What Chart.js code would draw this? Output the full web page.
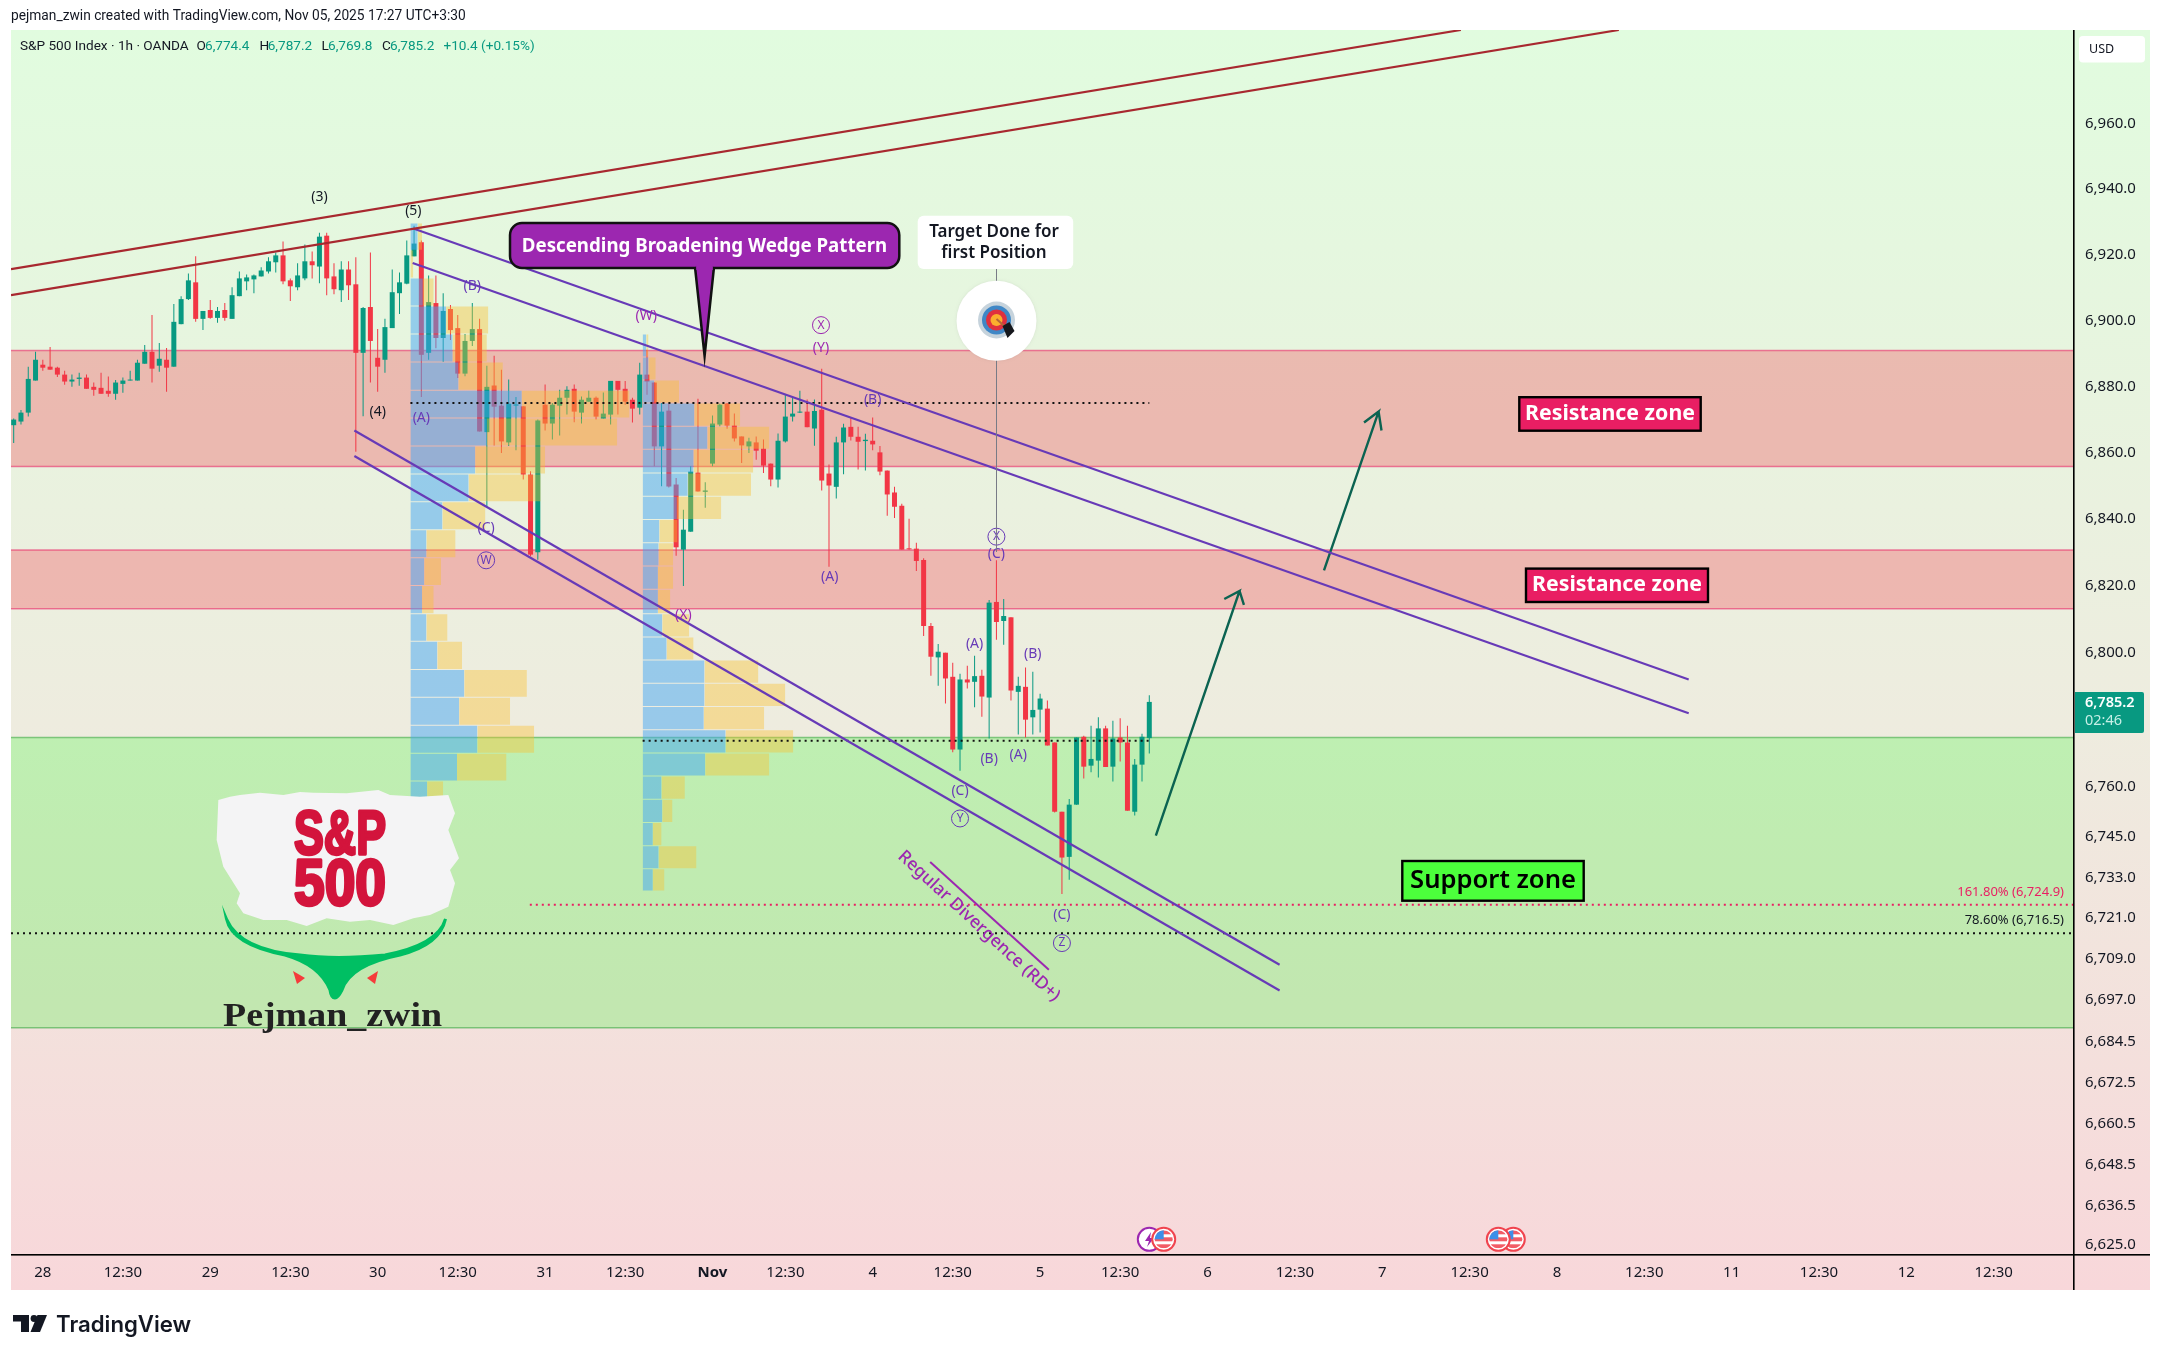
<!DOCTYPE html>
<html>
<head>
<meta charset="utf-8">
<title>S&amp;P 500 Index 1h</title>
<script src="https://cdn.jsdelivr.net/npm/chart.js@4"></script>
<style>
  html, body { margin: 0; padding: 0; background: #fff; }
  #wrap { width: 2161px; height: 1358px; }
</style>
</head>
<body>
<div id="wrap"><canvas id="chart" width="2161" height="1358"></canvas></div>
<script>
// --- DATA ---
const opens = [
  6868.3,6869.4,6872.1,6881.8,6886.6,6886.0,6885.7,6883.6,6881.5,6882.3,
  6882.7,6879.9,6879.6,6878.7,6877.8,6880.8,6881.8,6881.8,6886.9,6890.5,
  6886.3,6888.1,6886.0,6898.9,6906.5,6911.6,6900.5,6903.2,6900.8,6903.2,
  6900.5,6907.4,6911.9,6912.5,6913.4,6914.9,6917.7,6919.8,6912.2,6910.1,
  6912.8,6918.0,6916.4,6925.8,6913.4,6909.2,6915.5,6911.0,6890.2,6904.1,
  6888.7,6888.1,6897.7,6908.3,6911.2,6919.5,6923.8,6890.2,6905.3,6894.7,
  6903.5,6897.7,6883.9,6893.8,6897.4,6866.2,6880.3,6874.2,6863.1,6874.2,
  6874.0,6853.4,6830.0,6874.5,6868.8,6874.2,6876.6,6879.3,6872.1,6875.4,
  6876.6,6870.3,6871.5,6881.7,6879.3,6876.0,6873.6,6883.6,6881.2,6861.9,
  6872.7,6850.4,6830.8,6836.2,6854.0,6848.2,6856.7,6868.5,6874.8,6868.2,
  6864.9,6861.9,6863.1,6861.2,6856.7,6851.9,6863.4,6870.9,6872.1,6872.4,
  6867.3,6873.0,6853.7,6849.7,6863.1,6867.8,6864.8,6863.5,6863.6,6860.1,
  6854.6,6848.0,6844.0,6831.1,6831.1,6827.7,6807.9,6798.5,6799.9,6792.7,
  6771.0,6791.9,6791.2,6793.0,6786.5,6815.1,6809.4,6810.5,6788.2,6789.7,
  6780.6,6782.9,6783.2,6773.1,6752.5,6739.1,6754.6,6774.8,6766.2,6767.7,
  6777.3,6765.9,6774.6,6773.1,6752.5,6766.5,6774.4
]
const highs = [
  6870.3,6872.9,6886.0,6890.5,6888.1,6892.0,6886.0,6884.8,6883.6,6884.2,
  6883.6,6881.2,6884.2,6883.0,6882.0,6882.7,6884.8,6888.1,6892.6,6901.7,
  6893.2,6891.7,6905.0,6907.4,6914.3,6919.5,6902.9,6906.2,6904.1,6905.3,
  6910.1,6914.9,6914.0,6914.0,6916.2,6919.2,6920.7,6924.0,6912.8,6917.4,
  6923.1,6921.0,6926.7,6926.7,6917.4,6918.0,6918.0,6919.2,6904.1,6920.7,
  6897.4,6900.5,6915.5,6914.6,6924.3,6928.8,6924.3,6913.7,6913.7,6908.3,
  6904.7,6901.7,6895.9,6905.3,6900.5,6886.3,6889.3,6885.1,6882.1,6876.8,
  6874.0,6854.4,6870.0,6880.6,6875.0,6879.0,6880.1,6880.6,6877.0,6878.7,
  6877.0,6878.2,6881.7,6881.7,6881.7,6876.6,6887.2,6891.1,6881.2,6875.0,
  6874.8,6852.4,6842.8,6855.9,6876.3,6851.1,6871.2,6874.8,6875.0,6871.8,
  6864.9,6864.5,6864.9,6864.0,6856.7,6865.8,6877.5,6876.8,6878.7,6876.1,
  6876.1,6885.4,6856.4,6864.8,6868.7,6870.7,6867.8,6865.7,6870.6,6862.0,
  6854.6,6849.7,6844.6,6840.1,6832.9,6828.2,6808.8,6802.5,6799.9,6796.9,
  6793.6,6796.0,6799.0,6794.8,6815.7,6827.6,6816.0,6810.5,6792.7,6795.5,
  6794.2,6787.6,6785.6,6773.1,6752.5,6756.3,6774.6,6775.1,6778.1,6780.6,
  6778.1,6779.6,6780.3,6778.1,6768.2,6775.7,6787.2
]
const lows = [
  6862.9,6868.5,6870.9,6881.8,6884.8,6885.1,6882.9,6880.5,6879.9,6880.2,
  6879.3,6877.2,6877.8,6876.9,6876.0,6878.1,6881.8,6881.8,6886.9,6881.2,
  6884.5,6878.4,6886.0,6898.9,6906.2,6899.6,6897.1,6900.5,6899.3,6899.9,
  6900.5,6907.4,6909.2,6908.3,6913.4,6914.3,6914.6,6911.0,6905.9,6909.2,
  6912.2,6912.8,6911.3,6907.7,6908.0,6905.6,6906.2,6860.3,6871.0,6881.2,
  6878.4,6884.2,6897.7,6902.0,6911.0,6919.5,6876.8,6888.1,6891.6,6887.5,
  6894.1,6882.6,6883.1,6892.3,6866.4,6843.8,6862.2,6859.9,6862.0,6860.7,
  6851.9,6828.8,6827.8,6866.7,6864.0,6865.2,6871.5,6869.2,6868.8,6875.4,
  6870.0,6870.3,6868.5,6871.5,6874.5,6869.1,6871.5,6877.5,6855.9,6849.9,
  6849.5,6829.0,6819.9,6836.2,6848.3,6843.4,6855.9,6868.0,6867.2,6863.4,
  6856.9,6859.9,6857.9,6853.9,6849.9,6849.5,6863.1,6869.4,6872.0,6867.7,
  6862.1,6848.6,6825.7,6846.2,6853.5,6863.7,6854.9,6854.6,6860.7,6853.2,
  6841.0,6840.3,6830.8,6830.8,6824.4,6804.9,6793.0,6790.0,6784.7,6770.2,
  6764.7,6789.2,6783.6,6780.8,6774.3,6803.8,6802.3,6785.6,6775.5,6774.6,
  6775.5,6776.1,6772.2,6752.3,6728.1,6732.3,6754.6,6762.4,6764.2,6762.7,
  6765.8,6761.5,6767.4,6752.8,6751.4,6761.5,6769.8
]
const closes = [
  6870.0,6872.1,6882.3,6888.1,6885.7,6885.1,6883.6,6881.5,6882.1,6882.7,
  6879.3,6879.0,6877.8,6877.8,6881.2,6881.8,6882.0,6887.2,6890.5,6885.4,
  6888.4,6885.7,6899.6,6906.5,6912.2,6900.5,6902.9,6900.8,6902.9,6900.8,
  6907.7,6912.8,6913.1,6913.7,6915.2,6918.0,6919.8,6911.9,6910.4,6913.7,
  6918.0,6916.8,6925.5,6912.8,6909.5,6915.5,6910.7,6890.2,6903.8,6893.8,
  6886.0,6898.0,6908.6,6911.6,6919.8,6923.4,6889.6,6905.6,6894.7,6902.9,
  6897.1,6883.9,6893.8,6897.4,6866.4,6879.9,6873.9,6863.4,6874.8,6874.6,
  6853.4,6829.3,6869.7,6868.8,6874.5,6876.6,6879.0,6872.4,6876.0,6876.6,
  6870.9,6871.8,6881.7,6879.0,6875.4,6873.3,6883.6,6881.5,6861.9,6872.4,
  6849.8,6831.5,6836.8,6854.3,6848.3,6848.6,6868.8,6874.5,6868.2,6864.3,
  6862.2,6863.4,6860.6,6856.1,6851.9,6863.6,6870.9,6871.8,6872.4,6867.7,
  6872.6,6851.6,6850.1,6863.1,6867.6,6864.8,6863.3,6863.9,6862.5,6854.3,
  6847.4,6843.7,6830.8,6830.9,6827.4,6807.9,6798.7,6800.2,6792.2,6771.0,
  6791.9,6791.0,6792.9,6786.8,6814.9,6809.1,6810.9,6788.6,6790.0,6779.9,
  6782.8,6786.2,6772.2,6752.5,6738.9,6754.6,6774.6,6765.9,6768.2,6777.3,
  6765.8,6774.3,6773.1,6752.8,6766.5,6774.8,6785.2
]

const priceTicks = [6960,6940,6920,6900,6880,6860,6840,6820,6800,6760,6745,6733,6721,6709,6697,6684.5,6672.5,6660.5,6648.5,6636.5,6625]
const timeTicks = [4,15,27,38,50,61,73,84,96,106,118,129,141,152,164,176,188,200,212,224,236,248,260,272]
const timeLabels = ['28','12:30','29','12:30','30','12:30','31','12:30','Nov','12:30','4','12:30','5','12:30','6','12:30','7','12:30','8','12:30','11','12:30','12','12:30']

// fixed ranges, in bars and prices
const barMin = -0.37
const barMax = 283.03
const priceMin = 6622.1
const priceMax = 6988.75

// zones: [low, high]
const resistanceA = [6855.8, 6890.9]
const resistanceB = [6813.1, 6830.7]
const supportZone = [6688.6, 6774.6]

// volume profile 1
const vp1Start = 54.5
const vp1Edges = [6929.7,6921.4,6912.9,6904.4,6895.9,6887.4,6878.9,6870.5,6862.0,6853.6,6845.2,6836.8,6828.4,6820.0,6811.6,6803.3,6794.9,6786.6,6778.2,6769.9,6761.6,6753.3]
const vp1Up = [1.0,0,1.7,4.9,5.8,6.6,15.3,10.5,8.9,8.0,4.4,2.2,1.9,1.6,2.2,3.7,7.4,6.7,9.2,6.4,2.3]
const vp1Total = [1.6,0.4,3.2,10.7,10.5,12.7,30.1,28.4,18.5,17.9,10.3,6.2,4.2,3.2,5.1,7.1,16.0,13.7,17.0,13.2,4.5]
const vp1Poc = 6875.0

// volume profile 2
const vp2Start = 86.4
const vp2Edges = [6895.9,6888.9,6882.0,6875.0,6868.0,6861.0,6853.9,6846.9,6839.9,6832.9,6825.9,6818.9,6811.6,6804.6,6797.7,6790.8,6783.8,6776.9,6770.0,6763.1,6756.2,6749.3,6742.4,6735.6,6729.0]
const vp2Up = [0.5,0.8,1.6,7.1,8.9,7.0,6.2,4.7,2.3,2.2,2.1,2.1,2.7,3.3,8.5,8.5,8.4,11.4,8.6,2.6,2.7,1.4,2.2,1.4]
const vp2Total = [0.8,1.8,5.0,13.4,17.4,15.2,14.9,10.8,4.8,4.2,4.2,3.8,6.4,7.0,15.9,19.6,16.7,20.7,17.4,5.8,4.1,2.6,7.4,3.0]
const vp2Poc = 6773.6

// drawings: bars and prices of their end points
const channelBars = [-0.37, 198.8]
const channelTop = [6915.6, 6988.75]
const channelBars2 = [-0.37, 220.5]
const channelLow = [6907.7, 6988.75]
const wedgeBarsA = [54.9, 230.1]
const wedgeA = [6928.0, 6791.9]
const wedgeBarsB = [54.8, 230.1]
const wedgeB = [6917.5, 6781.8]
const wedgeBarsC = [46.8, 173.9]
const wedgeC = [6866.7, 6707.2]
const wedgeD = [6859.0, 6699.6]
const divergenceBars = [125.9, 142.2]
const divergence = [6737.6, 6705.7]
const fib161 = 6724.9
const fib161Start = 70.9
const fib786 = 6716.5
const pocEnd = 156
const arrowBars1 = [156.9, 168.4, 166.3, 168.4, 169.0]
const arrowPrices1 = [6745.4, 6818.4, 6816.0, 6818.4, 6814.2]
const arrowBars2 = [180, 187.5, 185.5, 187.5, 187.9]
const arrowPrices2 = [6824.6, 6872.4, 6869.1, 6872.4, 6866.7]

// wave labels, a single letter sits in a ring
const waveLabels = ['(3)','(5)','(4)','(B)','(A)','(C)','W','(W)','X','(Y)','(B)','(A)','(X)','X','(C)','(A)','(B)','(B)','(A)','(C)','Y','(C)','Z']
const waveBars = [42,54.9,50,63,56,64.9,64.9,86.9,110.9,110.9,118,112.1,92,135,135,132,140,134,138,130,130,144,144]
const wavePrices = [6937.6,6933.3,6872.4,6910.5,6870.6,6837.4,6827.6,6901.4,6898.6,6891.7,6876,6822.6,6811.2,6834.7,6829.6,6802.6,6799.6,6768.3,6769.5,6758.6,6750.5,6721.9,6713.6]
const waveColors = ['k','k','k','p','p','p','p','m','m','m','p','p','m','p','p','p','p','p','p','p','p','p','p']

const UP = '#089981'
const DOWN = '#f23645'
const PURPLE = '#673ab7'
const MAGENTA = '#9c27b0'
const PINK = '#e91e63'
const BLUE_VP = 'rgba(66, 165, 245, 0.5)'
const YELLOW_VP = 'rgba(251, 192, 45, 0.4)'

// --- DATASETS ---
function pts(xs, ys) {
  return xs.map((x, i) => ({ x: x, y: ys[i] }))
}

function line(xs, ys, color, width, order, dash) {
  return {
    type: 'line', data: pts(xs, ys), borderColor: color, borderWidth: width,
    borderDash: dash || [], pointRadius: 0, fill: false, order: order, tension: 0
  }
}

// rectangle between two prices, drawn as a filled line
function box(x0, x1, lo, hi, color, order) {
  return {
    type: 'line', data: pts([x0, x1], [hi, hi]), borderWidth: 0, pointRadius: 0,
    backgroundColor: color, fill: { value: lo }, order: order, tension: 0
  }
}

function profile(start, edges, up, total) {
  const out = []
  up.forEach((u, i) => {
    const hi = edges[i] - 0.15
    const lo = edges[i + 1] + 0.15
    if (u > 0) out.push(box(start, start + u, lo, hi, BLUE_VP, 3))
    out.push(box(start + u, start + total[i], lo, hi, YELLOW_VP, 3))
  })
  return out
}

const bars = opens.map((o, i) => i)
const colors = opens.map((o, i) => (closes[i] >= o ? UP : DOWN))

const datasets = [
  // candles
  { type: 'bar', data: bars.map(i => ({ x: i, y: [opens[i], closes[i]] })), backgroundColor: colors, barThickness: 5, minBarLength: 1, grouped: false, order: 4, inflateAmount: 0 },
  { type: 'bar', data: bars.map(i => ({ x: i, y: [lows[i], highs[i]] })), backgroundColor: colors, barThickness: 1, grouped: false, order: 5, inflateAmount: 0 },

  // zones
  box(barMin, barMax, resistanceA[0], resistanceA[1], 'rgba(242, 54, 69, 0.3)', 7),
  box(barMin, barMax, resistanceB[0], resistanceB[1], 'rgba(242, 54, 69, 0.3)', 7),
  box(barMin, barMax, supportZone[0], supportZone[1], 'rgba(0, 255, 0, 0.2)', 7),
  ...resistanceA.concat(resistanceB).map(p => line([barMin, barMax], [p, p], 'rgba(233, 30, 99, 0.55)', 1.5, 6)),
  ...supportZone.map(p => line([barMin, barMax], [p, p], 'rgba(76, 175, 80, 0.65)', 1.5, 6)),

  ...profile(vp1Start, vp1Edges, vp1Up, vp1Total),
  ...profile(vp2Start, vp2Edges, vp2Up, vp2Total),

  // trend lines
  line(channelBars, channelTop, '#a8282f', 2.2, 1),
  line(channelBars2, channelLow, '#a8282f', 2.2, 1),
  line(wedgeBarsA, wedgeA, PURPLE, 2.2, 1),
  line(wedgeBarsB, wedgeB, PURPLE, 2.2, 1),
  line(wedgeBarsC, wedgeC, PURPLE, 2.2, 1),
  line(wedgeBarsC, wedgeD, PURPLE, 2.2, 1),
  line(divergenceBars, divergence, MAGENTA, 2, 1),
  line(arrowBars1, arrowPrices1, '#0b6351', 2.4, 1),
  line(arrowBars2, arrowPrices2, '#0b6351', 2.4, 1),

  // fib and point of control lines
  line([fib161Start, barMax], [fib161, fib161], PINK, 2, 2, [2, 4]),
  line([barMin, barMax], [fib786, fib786], '#111', 2, 2, [2, 4]),
  line([vp1Start, pocEnd], [vp1Poc, vp1Poc], '#111', 2, 2, [2, 4]),
  line([vp2Start, pocEnd], [vp2Poc, vp2Poc], '#111', 2, 2, [2, 4])
]

// --- DECORATION ---
function roundBox(ctx, x, y, w, h, r, fill, stroke, lw) {
  ctx.beginPath()
  ctx.roundRect(x, y, w, h, r)
  ctx.fillStyle = fill
  ctx.fill()
  if (stroke) {
    ctx.strokeStyle = stroke
    ctx.lineWidth = lw
    ctx.stroke()
  }
}

function text(ctx, s, x, y, font, color, align) {
  ctx.font = font
  ctx.fillStyle = color
  ctx.textAlign = align || 'left'
  ctx.textBaseline = 'middle'
  ctx.fillText(s, x, y)
}

// stretches a word into a given box, heavy adds an outline
function fitText(ctx, s, x, y, w, h, font, color, heavy) {
  ctx.save()
  ctx.font = font
  ctx.fillStyle = color
  ctx.textAlign = 'left'
  ctx.textBaseline = 'alphabetic'
  const m = ctx.measureText(s)
  const th = m.actualBoundingBoxAscent + m.actualBoundingBoxDescent
  ctx.translate(x, y + h)
  ctx.scale(w / m.width, h / th)
  ctx.fillText(s, 0, -m.actualBoundingBoxDescent)
  if (heavy) {
    ctx.strokeStyle = color
    ctx.lineWidth = heavy
    ctx.lineJoin = 'round'
    ctx.strokeText(s, 0, -m.actualBoundingBoxDescent)
  }
  ctx.restore()
}

function poly(ctx, points, color) {
  ctx.beginPath()
  points.forEach((p, i) => (i ? ctx.lineTo(p[0], p[1]) : ctx.moveTo(p[0], p[1])))
  ctx.closePath()
  ctx.fillStyle = color
  ctx.fill()
}

function drawLogo(ctx) {
  // torn paper
  const paper = [[55,60],[90,50],[120,45],[180,38],[250,45],[300,36],[340,38],[440,40],[535,30],[570,45],[660,50],[745,45],[765,100],[745,150],[777,235],[750,270],[765,310],[745,380],[690,405],[640,415],[580,435],[510,420],[450,425],[380,415],[320,438],[260,420],[190,420],[130,400],[110,370],[120,340],[70,260],[50,180]]
  poly(ctx, paper.map(p => [p[0] / 3 + 200, p[1] / 3 + 780]), '#f4f4f5')
  const heavy = 'bold 50px "Liberation Sans Narrow", "Liberation Sans"'
  fitText(ctx, 'S&P', 294, 809, 92, 45, heavy, '#d3143c', 2.6)
  fitText(ctx, '500', 294, 858, 92, 47, heavy, '#d3143c', 2.6)

  // swoosh
  ctx.beginPath()
  ctx.moveTo(226.5, 919)
  ctx.quadraticCurveTo(240, 950, 300, 955)
  ctx.quadraticCurveTo(335, 960, 385, 955)
  ctx.quadraticCurveTo(438, 945, 445.5, 919)
  ctx.quadraticCurveTo(440, 945, 400, 955)
  ctx.quadraticCurveTo(350, 965, 342, 990)
  ctx.quadraticCurveTo(338, 998, 335, 998)
  ctx.quadraticCurveTo(331, 998, 330, 990)
  ctx.quadraticCurveTo(320, 965, 285, 955)
  ctx.quadraticCurveTo(232, 945, 226.5, 919)
  ctx.closePath()
  ctx.fillStyle = '#00bf63'
  ctx.fill()
  ctx.strokeStyle = '#00bf63'
  ctx.lineWidth = 3
  ctx.stroke()

  poly(ctx, [[293, 971], [305, 978], [297, 984]], '#f53b3b')
  poly(ctx, [[378, 971], [367, 978], [375, 984]], '#f53b3b')
  fitText(ctx, 'Pejman_zwin', 223, 1003, 219, 30, 'bold 34px "Liberation Serif"', '#222')
}

function drawFlag(ctx, x, y) {
  ctx.save()
  ctx.beginPath()
  ctx.arc(x, y, 11.5, 0, Math.PI * 2)
  ctx.fillStyle = '#fff'
  ctx.fill()
  ctx.lineWidth = 2
  ctx.strokeStyle = '#f0444f'
  ctx.stroke()
  ctx.beginPath()
  ctx.arc(x, y, 9, 0, Math.PI * 2)
  ctx.clip()
  ctx.fillStyle = '#f25c66'
  ctx.fillRect(x - 10, y - 9, 20, 4)
  ctx.fillRect(x - 10, y - 2, 20, 4)
  ctx.fillRect(x - 10, y + 5, 20, 4)
  ctx.fillStyle = '#3d8fe8'
  ctx.fillRect(x - 10, y - 10, 10, 10)
  ctx.restore()
}

function drawTarget(ctx) {
  const x = 996.5
  ctx.strokeStyle = '#787b86'
  ctx.lineWidth = 1
  ctx.beginPath()
  ctx.moveTo(x, 269)
  ctx.lineTo(x, 552)
  ctx.stroke()

  ctx.save()
  ctx.shadowColor = 'rgba(0, 0, 0, 0.08)'
  ctx.shadowBlur = 3
  ctx.beginPath()
  ctx.arc(x, 320.7, 40, 0, Math.PI * 2)
  ctx.fillStyle = '#fff'
  ctx.fill()
  ctx.restore()
  const rings = [[18.5, '#c6d3dc'], [14.5, '#3f87c6'], [10.5, '#e0303e'], [6, '#fbae2e']]
  rings.forEach(r => {
    ctx.beginPath()
    ctx.arc(x, 320, r[0], 0, Math.PI * 2)
    ctx.fillStyle = r[1]
    ctx.fill()
  })
  ctx.strokeStyle = '#b5653a'
  ctx.lineWidth = 2
  ctx.beginPath()
  ctx.moveTo(x, 319)
  ctx.lineTo(x + 10, 328)
  ctx.stroke()
  poly(ctx, [[x + 6, 326], [x + 13, 322], [x + 18, 331], [x + 11, 338]], '#15171c')

  roundBox(ctx, 917.7, 215.7, 155.5, 53.3, 6, '#fff')
  const f = '600 17px "Noto Sans"'
  text(ctx, 'Target Done for', 994, 232, f, '#131722', 'center')
  text(ctx, 'first Position', 994, 253.5, f, '#131722', 'center')
}

const overlay = {
  id: 'overlay',
  beforeDraw(chart) {
    const ctx = chart.ctx
    const g = ctx.createLinearGradient(0, 30, 0, 1290)
    g.addColorStop(0, '#e1fcdf')
    g.addColorStop(0.55, '#eeecdf')
    g.addColorStop(1, '#f8d7da')
    ctx.fillStyle = g
    ctx.fillRect(11, 30, 2139, 1260)
  },
  afterDraw(chart) {
    const ctx = chart.ctx
    const sx = chart.scales.x
    const sy = chart.scales.y

    // axis lines
    ctx.fillStyle = '#000'
    ctx.fillRect(2073, 30, 1.6, 1260)
    ctx.fillRect(11, 1254, 2139, 1.6)

    // header and legend line
    text(ctx, 'pejman_zwin created with TradingView.com, Nov 05, 2025 17:27 UTC+3:30', 11, 17, '13.75px Roboto', '#131722')
    const lf = '13.6px Roboto'
    text(ctx, 'S&P 500 Index · 1h · OANDA', 20, 47, lf, '#131722')
    const legendKeys = [['O', 196.5], ['H', 259.4], ['L', 321.4], ['C', 382]]
    legendKeys.forEach(k => text(ctx, k[0], k[1], 47, lf, '#131722'))
    const legendVals = [['6,774.4', 205], ['6,787.2', 267.7], ['6,769.8', 328], ['6,785.2', 390], ['+10.4 (+0.15%)', 443.5]]
    legendVals.forEach(k => text(ctx, k[0], k[1], 47, lf, UP))

    // wave labels
    waveLabels.forEach((s, i) => {
      const x = sx.getPixelForValue(waveBars[i])
      const y = sy.getPixelForValue(wavePrices[i])
      const c = waveColors[i] === 'k' ? '#131722' : waveColors[i] === 'm' ? MAGENTA : PURPLE
      const ringed = s.length === 1
      text(ctx, s, x, y, ringed ? '12px "Noto Sans"' : '14px "Noto Sans"', c, 'center')
      if (ringed) {
        ctx.beginPath()
        ctx.arc(x, y, 8.5, 0, Math.PI * 2)
        ctx.strokeStyle = c
        ctx.lineWidth = 1
        ctx.stroke()
      }
    })

    // divergence label
    ctx.save()
    ctx.translate(sx.getPixelForValue(132.6), sy.getPixelForValue(6718.6))
    ctx.rotate(42.6 * Math.PI / 180)
    text(ctx, 'Regular Divergence (RD+)', 0, 0, '500 17.5px "Noto Sans"', MAGENTA, 'center')
    ctx.restore()

    // wedge banner
    ctx.beginPath()
    ctx.roundRect(510, 223, 389.3, 45, 12)
    ctx.fillStyle = MAGENTA
    ctx.fill()
    ctx.strokeStyle = '#111'
    ctx.lineWidth = 2.5
    ctx.stroke()
    ctx.beginPath()
    ctx.moveTo(695, 267)
    ctx.lineTo(704.6, 356)
    ctx.lineTo(714, 267)
    ctx.fillStyle = MAGENTA
    ctx.fill()
    ctx.stroke()
    ctx.fillRect(696.3, 264, 16.4, 6)
    text(ctx, 'Descending Broadening Wedge Pattern', 704.5, 246.5, 'bold 18.7px "Noto Sans"', '#fff', 'center')

    drawTarget(ctx)

    // zone labels
    const tags = [
      ['Resistance zone', 1519.3, 397.2, 181.4, 33.5, PINK, '#fff', 'bold 21.3px "Noto Sans"'],
      ['Resistance zone', 1526, 568.6, 182, 33.4, PINK, '#fff', 'bold 21.3px "Noto Sans"'],
      ['Support zone', 1402.3, 861, 181.4, 39.7, '#4cff3c', '#000', '600 25.6px "Noto Sans"']
    ]
    tags.forEach(t => {
      ctx.fillStyle = t[5]
      ctx.fillRect(t[1], t[2], t[3], t[4])
      ctx.strokeStyle = '#000'
      ctx.lineWidth = 2.4
      ctx.strokeRect(t[1], t[2], t[3], t[4])
      text(ctx, t[0], t[1] + t[3] / 2, t[2] + t[4] / 2, t[7], t[6], 'center')
    })

    // fib labels
    text(ctx, '161.80% (6,724.9)', 2064, 892, '13px "Noto Sans"', PINK, 'right')
    text(ctx, '78.60% (6,716.5)', 2064, 920, '13px "Noto Sans"', '#131722', 'right')

    drawLogo(ctx)

    // event icons on the time axis
    ctx.beginPath()
    ctx.arc(1149.3, 1239.3, 11.5, 0, Math.PI * 2)
    ctx.fillStyle = '#fff'
    ctx.fill()
    ctx.strokeStyle = MAGENTA
    ctx.lineWidth = 2
    ctx.stroke()
    poly(ctx, [[1151, 1232], [1145, 1241], [1149, 1241], [1147, 1247], [1154, 1238], [1150, 1238]], MAGENTA)
    drawFlag(ctx, 1163.7, 1239.3)
    drawFlag(ctx, 1513.3, 1239.3)
    drawFlag(ctx, 1498.3, 1239.3)

    // currency button and last price tag
    roundBox(ctx, 2079, 36, 66, 26.5, 4, '#fff')
    text(ctx, 'USD', 2089, 49.5, '12.5px "Noto Sans"', '#131722')
    roundBox(ctx, 2075, 692, 69, 41, [0, 2, 2, 0], UP)
    text(ctx, '6,785.2', 2085, 703, '600 14.5px "Noto Sans"', '#fff')
    text(ctx, '02:46', 2085, 721, '14.5px "Noto Sans"', '#c6efe6')

    // footer logo
    ctx.fillStyle = '#131722'
    ctx.fillRect(13, 1315, 16, 6.5)
    ctx.fillRect(21, 1315, 8, 17)
    ctx.beginPath()
    ctx.arc(34, 1318.5, 3.4, 0, Math.PI * 2)
    ctx.fill()
    poly(ctx, [[47, 1315], [40, 1332], [30.5, 1332], [37.5, 1315]], '#131722')
    text(ctx, 'TradingView', 56, 1325, '600 22.2px Inter', '#131722')
  }
}

// --- CHART ---
new Chart(document.getElementById('chart').getContext('2d'), {
  data: { datasets: datasets },
  plugins: [overlay],
  options: {
    responsive: false,
    animation: false,
    devicePixelRatio: 1,
    layout: { padding: { left: 11, top: 30, right: 11, bottom: 68 } },
    plugins: { legend: { display: false }, tooltip: { enabled: false } },
    scales: {
      x: {
        type: 'linear',
        offset: false,
        min: barMin,
        max: barMax,
        grid: { display: false, drawTicks: false },
        border: { display: false },
        afterBuildTicks: scale => { scale.ticks = timeTicks.map(v => ({ value: v })) },
        afterFit: scale => { scale.height = 35 },
        ticks: {
          autoSkip: false,
          maxRotation: 0,
          padding: 9,
          color: '#131722',
          font: ctx => ({ family: 'Noto Sans', size: 15, weight: ctx.index === 8 ? 'bold' : 'normal' }),
          callback: (v, i) => timeLabels[i]
        }
      },
      y: {
        type: 'logarithmic',
        position: 'right',
        bounds: 'data',
        min: priceMin,
        max: priceMax,
        grid: { display: false, drawTicks: false },
        border: { display: false },
        afterBuildTicks: scale => { scale.ticks = priceTicks.map(v => ({ value: v })) },
        afterFit: scale => { scale.width = 76 },
        ticks: {
          autoSkip: false,
          padding: 11,
          color: '#131722',
          font: { family: 'Noto Sans', size: 15 },
          callback: v => v.toLocaleString('en-US', { minimumFractionDigits: 1, maximumFractionDigits: 1 })
        }
      }
    }
  }
})
</script>
</body>
</html>
